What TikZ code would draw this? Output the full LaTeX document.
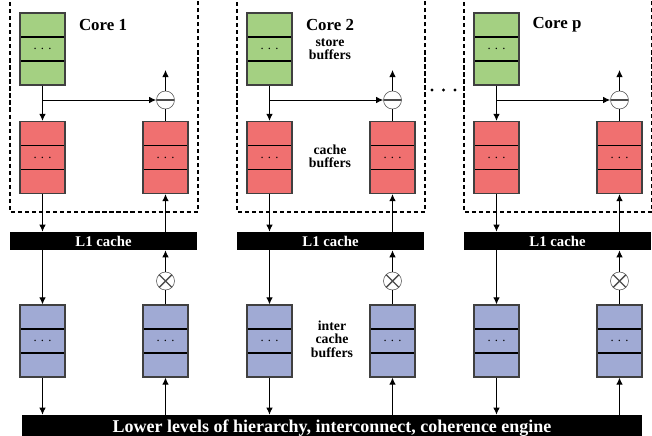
\documentclass[tikz,border=0pt]{standalone}
\usepackage{fontspec}
\setmainfont{Liberation Serif}
\usetikzlibrary{arrows.meta,positioning,calc}

\definecolor{storegreen}{RGB}{164,208,130}
\definecolor{cachered}{RGB}{240,112,112}
\definecolor{interblue}{RGB}{160,170,212}

\begin{document}
\begin{tikzpicture}[x=0.025cm, y=-0.025cm, >={Latex[length=5pt,width=4.6pt]},
        buf/.style={rectangle, draw=black!75, line width=0.8pt, minimum width=1.125cm,
                    minimum height=1.8cm, inner sep=0pt, font=\small,
                    path picture={
                      \draw[black, line width=1.2pt]
                        ($(path picture bounding box.north west)!0.333!(path picture bounding box.south west)$) --
                        ($(path picture bounding box.north east)!0.333!(path picture bounding box.south east)$);
                      \draw[black, line width=1.2pt]
                        ($(path picture bounding box.north west)!0.667!(path picture bounding box.south west)$) --
                        ($(path picture bounding box.north east)!0.667!(path picture bounding box.south east)$);
                    }},
        sub/.style={circle, draw=black!70, line width=0.4pt, fill=white, minimum size=0.45cm, inner sep=0pt,
                    path picture={\draw[line width=1.4pt] (path picture bounding box.west) -- (path picture bounding box.east);}},
        mul/.style={circle, draw=black!70, line width=0.4pt, fill=white, minimum size=0.45cm, inner sep=0pt,
                    path picture={\draw[line width=1pt] (path picture bounding box.north west) -- (path picture bounding box.south east)
                                                       (path picture bounding box.north east) -- (path picture bounding box.south west);}},
        cachebar/.style={rectangle, fill=black, text=white, font=\bfseries\fontsize{10.5}{12}\selectfont,
                         minimum width=4.675cm, minimum height=0.45cm, inner sep=0pt},
        corelabel/.style={font=\bfseries\fontsize{12}{14}\selectfont, inner sep=0pt},
        note/.style={font=\bfseries\fontsize{9.8}{9.5}\selectfont, align=center, inner sep=0pt},
        frame/.style={line width=0.8pt, dash pattern=on 3pt off 2pt},
        dot/.style={circle, fill=black, inner sep=0pt, minimum size=2.2pt},
        line/.style={line width=0.7pt}
    ]
        \useasboundingbox (0,0) rectangle (652,435);

        % Lower levels
        \node[rectangle, fill=black, text=white, font=\bfseries\fontsize{12.8}{14}\selectfont,
              minimum width=15.5cm, minimum height=0.65cm, inner sep=0pt] (low) at (332,428)
              {Lower levels of hierarchy, interconnect, coherence engine};

        % Cores
        \foreach \i/\c [evaluate=\i as \o using (\i-1)*227] in {1/1,2/2,3/p}{
            \draw[frame] (\o+10,-5) -- (\o+10,212) -- (\o+198,212) -- (\o+198,-5);
            \node[corelabel] (core\i) at (\o+103,25) {Core \c};

            \node[buf, fill=storegreen] (g\i) at (\o+42.5,49) {. . .};
            \node[buf, fill=cachered] (rl\i) at (\o+42.5,157.5) {. . .};
            \node[buf, fill=cachered] (rr\i) at (\o+165.5,157.5) {. . .};
            \node[buf, fill=interblue] (bl\i) at (\o+42.5,341) {. . .};
            \node[buf, fill=interblue] (br\i) at (\o+165.5,341) {. . .};
            \node[sub] (sub\i) at (\o+165.5,100) {};
            \node[mul] (mul\i) at (\o+165.5,281) {};
            \node[cachebar] (l1\i) at (\o+103.5,241) {L1 cache};
            \coordinate (out\i) at (\o+165.5,70);

            \draw[line,->] (g\i) -- (rl\i);
            \draw[line,->] (g\i.south |- sub\i) -- (sub\i);
            \draw[line] (rr\i) -- (sub\i);
            \draw[line,->] (sub\i) -- (out\i);
            \draw[line,->] (rl\i) -- (rl\i.south |- l1\i.north);
            \draw[line,->] (rr\i.south |- l1\i.north) -- (rr\i);
            \draw[line,->] (l1\i.south -| bl\i) -- (bl\i);
            \draw[line,->] (bl\i) -- (bl\i.south |- low.north);
            \draw[line,->] (br\i.south |- low.north) -- (br\i);
            \draw[line] (br\i) -- (mul\i);
            \draw[line,->] (mul\i) -- (mul\i.north |- l1\i.south);
        }

        % Labels
        \node[note] (storetxt) at (330,49) {store\\buffers};
        \node[note] (cachetxt) at (330,156.5) {cache\\buffers};
        \node[note] (intertxt) at (332,339) {inter\\cache\\buffers};

        % More cores
        \foreach \x [count=\k] in {432,443.5,455}
            \node[dot] (more\k) at (\x,90) {};
    \end{tikzpicture}
\end{document}
